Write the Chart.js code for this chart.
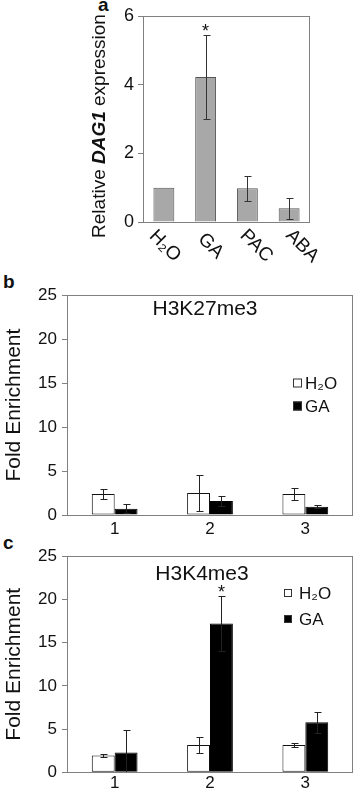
<!DOCTYPE html>
<html><head><meta charset="utf-8">
<script src="https://cdn.jsdelivr.net/npm/chart.js@4/dist/chart.umd.min.js"></script>
<style>
html,body{margin:0;padding:0;background:#fff;}
#wrap{position:relative;width:358px;height:791px;overflow:hidden;font-family:"Liberation Sans",Arial,sans-serif;}
canvas{position:absolute;}
.lab{position:absolute;font-weight:bold;font-size:19px;line-height:1;color:#111;font-family:"Liberation Sans",Arial,sans-serif;}
</style></head><body>
<div id="wrap">
<div class="lab" style="left:98px;top:-5px">a</div>
<div class="lab" style="left:3px;top:272px">b</div>
<div class="lab" style="left:3px;top:533px">c</div>
<canvas id="ca" width="273" height="290" style="left:85px;top:0px"></canvas>
<canvas id="cb" width="358" height="260" style="left:0px;top:280px"></canvas>
<canvas id="cc" width="358" height="250" style="left:0px;top:541px"></canvas>
</div>
<script>
// ---------- DATA ----------
const catsA = ['H\u2082O', 'GA', 'PAC', 'ABA'];
const valuesA = [1.0, 4.22, 0.98, 0.40];
const errA = [0, 1.22, 0.37, 0.30];
const starsA = [false, true, false, false];
const ticksA = [0, 2, 4, 6];

const sitesBC = ['1', '2', '3'];
const seriesNames = ['H\u2082O', 'GA'];

const h2oB = [2.4, 2.5, 2.4];
const h2oBErr = [0.6, 2.05, 0.65];
const gaB = [0.72, 1.6, 0.95];
const gaBErr = [0.5, 0.55, 0.2];

const h2oC = [1.95, 3.15, 3.15];
const h2oCErr = [0.15, 0.9, 0.22];
const gaC = [2.3, 17.2, 5.8];
const gaCErr = [2.6, 3.2, 1.2];
const starsC = [false, true, false];

const FONT = '"Liberation Sans", Arial, sans-serif';
const AXIS = '#808080';

// ---------- PLUGINS ----------
const boxPlugin = {
  id: 'boxPlugin',
  afterDraw(chart) {
    const ctx = chart.ctx, a = chart.chartArea;
    ctx.save();
    ctx.strokeStyle = AXIS; ctx.lineWidth = 1;
    const l = Math.round(a.left) + 0.5, t = Math.round(a.top) + 0.5;
    const r = Math.round(a.right) - 0.5, b = Math.round(a.bottom) + 0.5;
    ctx.strokeRect(l, t, r - l, b - t);
    ctx.restore();
  }
};

const errorBars = {
  id: 'errorBars',
  afterDatasetsDraw(chart, args, o) {
    const ctx = chart.ctx, y = chart.scales.y;
    chart.data.datasets.forEach((ds, i) => {
      if (!ds.errors) return;
      const meta = chart.getDatasetMeta(i);
      meta.data.forEach((bar, j) => {
        const v = ds.data[j], e = ds.errors[j];
        const x = Math.round(bar.x) + 0.5;
        if (e) {
          const yt = Math.round(y.getPixelForValue(v + e)) + 0.5;
          const yb = Math.round(y.getPixelForValue(Math.max(0, v - e))) + 0.5;
          ctx.save();
          ctx.strokeStyle = o.color || '#222'; ctx.lineWidth = 1;
          ctx.beginPath();
          ctx.moveTo(x, yt); ctx.lineTo(x, yb);
          ctx.moveTo(x - 3, yt); ctx.lineTo(x + 4, yt);
          ctx.moveTo(x - 3, yb); ctx.lineTo(x + 4, yb);
          ctx.stroke();
          ctx.restore();
        }
        if (ds.stars && ds.stars[j]) {
          const yt = y.getPixelForValue(v + (e || 0));
          ctx.save();
          ctx.fillStyle = '#111';
          ctx.font = '18px ' + FONT;
          ctx.textAlign = 'center'; ctx.textBaseline = 'alphabetic';
          ctx.fillText('*', bar.x, yt + 2);
          ctx.restore();
        }
      });
    });
  }
};

const rotLabels = {
  id: 'rotLabels',
  afterDraw(chart, args, o) {
    if (!o || !o.on) return;
    const ctx = chart.ctx, x = chart.scales.x, n = chart.data.labels.length;
    chart.data.labels.forEach((lab, i) => {
      const px = x.getPixelForValue(i) + o.dx + o.spread * (i - (n - 1) / 2);
      ctx.save();
      ctx.translate(px, chart.chartArea.bottom + o.dy);
      ctx.rotate(Math.PI / 4);
      ctx.fillStyle = '#111';
      ctx.font = o.size + 'px ' + FONT;
      ctx.textAlign = 'center'; ctx.textBaseline = 'middle';
      ctx.fillText(lab, 0, 0);
      ctx.restore();
    });
  }
};

const yTitleA = {
  id: 'yTitleA',
  afterDraw(chart, args, o) {
    if (!o || !o.on) return;
    const ctx = chart.ctx;
    const parts = [
      ['Relative ', o.size + 'px ' + FONT],
      ['DAG1', 'italic bold ' + o.size + 'px ' + FONT],
      [' expression', o.size + 'px ' + FONT]
    ];
    let total = 0;
    parts.forEach(p => { ctx.font = p[1]; total += ctx.measureText(p[0]).width; });
    ctx.save();
    ctx.translate(o.x, o.y);
    ctx.rotate(-Math.PI / 2);
    ctx.fillStyle = '#111';
    ctx.textBaseline = 'middle'; ctx.textAlign = 'left';
    let cx = -total / 2;
    parts.forEach(p => { ctx.font = p[1]; ctx.fillText(p[0], cx, 0); cx += ctx.measureText(p[0]).width; });
    ctx.restore();
  }
};

const innerTitle = {
  id: 'innerTitle',
  afterDraw(chart, args, o) {
    if (!o || !o.text) return;
    const ctx = chart.ctx, a = chart.chartArea;
    ctx.save();
    ctx.fillStyle = '#111';
    ctx.font = o.size + 'px ' + FONT;
    ctx.textAlign = 'center'; ctx.textBaseline = 'middle';
    ctx.fillText(o.text, (a.left + a.right) / 2 + o.dx, a.top + o.dy);
    ctx.restore();
  }
};

const inLegend = {
  id: 'inLegend',
  afterDraw(chart, args, o) {
    if (!o || !o.on) return;
    const ctx = chart.ctx, a = chart.chartArea;
    chart.data.datasets.forEach((ds, i) => {
      const cy = Math.round(a.top + o.top + i * o.gap);
      const x = Math.round(a.right - o.right);
      ctx.save();
      ctx.fillStyle = ds.backgroundColor;
      ctx.fillRect(x, cy - o.box / 2, o.box, o.box);
      ctx.strokeStyle = '#333'; ctx.lineWidth = 1;
      ctx.strokeRect(x + 0.5, cy - o.box / 2 + 0.5, o.box - 1, o.box - 1);
      ctx.fillStyle = '#111';
      ctx.font = o.size + 'px ' + FONT;
      ctx.textAlign = 'left'; ctx.textBaseline = 'middle';
      ctx.fillText(ds.label, x + o.box + o.textGap, cy + 1);
      ctx.restore();
    });
  }
};

Chart.defaults.font.family = FONT;
Chart.defaults.color = '#111';

// ---------- PANEL A ----------
new Chart(document.getElementById('ca'), {
  type: 'bar',
  data: {
    labels: catsA,
    datasets: [{
      data: valuesA, errors: errA, stars: starsA,
      backgroundColor: '#a8a8a8', borderColor: '#555', borderWidth: 1,
      barPercentage: 0.5, categoryPercentage: 1
    }]
  },
  options: {
    responsive: false, animation: false, devicePixelRatio: 1,
    layout: { padding: { top: 16, right: 48, left: 0, bottom: 0 } },
    plugins: {
      legend: { display: false }, tooltip: { enabled: false },
      errorBars: { color: '#333' },
      rotLabels: { on: true, dx: 7, spread: 4, dy: 24, size: 19 },
      yTitleA: { on: true, x: 15, y: 126, size: 19 }
    },
    scales: {
      x: {
        ticks: { display: false }, grid: { display: false, drawTicks: false, tickLength: 0 }, border: { display: false },
        afterFit(s) { s.height = 68; }
      },
      y: {
        min: 0, max: 6,
        afterBuildTicks(s) { s.ticks = ticksA.map(v => ({ value: v })); },
        ticks: { font: { size: 18 }, color: '#111', padding: 4 },
        grid: { drawOnChartArea: false, tickLength: 5, color: AXIS },
        border: { display: false },
        afterFit(s) { s.width = 58; }
      }
    }
  },
  plugins: [errorBars, boxPlugin, rotLabels, yTitleA]
});

// ---------- PANELS B & C ----------
function groupedChart(id, h2o, h2oErr, ga, gaErr, gaStars, padTop, xH, xPad, title, legend) {
  return new Chart(document.getElementById(id), {
    type: 'bar',
    data: {
      labels: sitesBC,
      datasets: [
        { label: seriesNames[0], data: h2o, errors: h2oErr, backgroundColor: '#ffffff', borderColor: '#111', borderWidth: 1,
          borderSkipped: false, barPercentage: 1, categoryPercentage: 0.48 },
        { label: seriesNames[1], data: ga, errors: gaErr, stars: gaStars, backgroundColor: '#000000', borderColor: '#000', borderWidth: 1,
          barPercentage: 1, categoryPercentage: 0.48 }
      ]
    },
    options: {
      responsive: false, animation: false, devicePixelRatio: 1,
      layout: { padding: { top: padTop, right: 5, left: 0, bottom: 0 } },
      plugins: {
        legend: { display: false }, tooltip: { enabled: false },
        errorBars: { color: '#222' },
        innerTitle: title,
        inLegend: legend
      },
      scales: {
        x: {
          ticks: { font: { size: 17 }, color: '#111', padding: xPad },
          grid: { display: false, drawTicks: false, tickLength: 0 }, border: { display: false },
          afterFit(s) { s.height = xH; }
        },
        y: {
          min: 0, max: 25,
          ticks: { stepSize: 5, font: { size: 17 }, color: '#111', padding: 5 },
          grid: { drawOnChartArea: false, tickLength: 5, color: AXIS },
          border: { display: false },
          title: { display: true, text: 'Fold Enrichment', font: { size: 21 }, color: '#111', padding: { top: 2, bottom: 0 } },
          afterFit(s) { s.width = 67; }
        }
      }
    },
    plugins: [errorBars, boxPlugin, innerTitle, inLegend]
  });
}

groupedChart('cb', h2oB, h2oBErr, gaB, gaBErr, null, 15, 25, 4,
  { text: 'H3K27me3', size: 21, dx: -5, dy: 14 },
  { on: true, right: 60, top: 88, gap: 23, box: 9, textGap: 3, size: 17 });

groupedChart('cc', h2oC, h2oCErr, gaC, gaCErr, starsC, 15, 18.7, 1,
  { text: 'H3K4me3', size: 21, dx: -8, dy: 18 },
  { on: true, right: 69, top: 37, gap: 25.5, box: 8, textGap: 7, size: 17 });
</script>
</body></html>
